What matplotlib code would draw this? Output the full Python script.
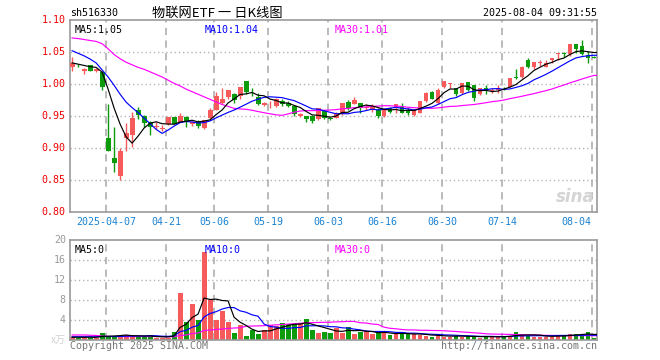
import matplotlib
matplotlib.use('Agg')
import matplotlib.pyplot as plt
import numpy as np
import pandas as pd

# ---------------- data ----------------
dates = [
    '2025-03-27', '2025-03-28', '2025-03-31', '2025-04-01', '2025-04-02', '2025-04-03',
    '2025-04-07', '2025-04-08', '2025-04-09', '2025-04-10', '2025-04-11',
    '2025-04-14', '2025-04-15', '2025-04-16', '2025-04-17', '2025-04-18',
    '2025-04-21', '2025-04-22', '2025-04-23', '2025-04-24', '2025-04-25',
    '2025-04-28', '2025-04-29', '2025-04-30',
    '2025-05-06', '2025-05-07', '2025-05-08', '2025-05-09',
    '2025-05-12', '2025-05-13', '2025-05-14', '2025-05-15', '2025-05-16',
    '2025-05-19', '2025-05-20', '2025-05-21', '2025-05-22', '2025-05-23',
    '2025-05-26', '2025-05-27', '2025-05-28', '2025-05-29', '2025-05-30',
    '2025-06-03', '2025-06-04', '2025-06-05', '2025-06-06',
    '2025-06-09', '2025-06-10', '2025-06-11', '2025-06-12', '2025-06-13',
    '2025-06-16', '2025-06-17', '2025-06-18', '2025-06-19', '2025-06-20',
    '2025-06-23', '2025-06-24', '2025-06-25', '2025-06-26', '2025-06-27',
    '2025-06-30', '2025-07-01', '2025-07-02', '2025-07-03', '2025-07-04',
    '2025-07-07', '2025-07-08', '2025-07-09', '2025-07-10', '2025-07-11',
    '2025-07-14', '2025-07-15', '2025-07-16', '2025-07-17', '2025-07-18',
    '2025-07-21', '2025-07-22', '2025-07-23', '2025-07-24', '2025-07-25',
    '2025-07-28', '2025-07-29', '2025-07-30', '2025-07-31', '2025-08-01',
    '2025-08-04',
]

opens = [1.027, 1.030, 1.021, 1.029, 1.021, 1.019, 0.915, 0.885, 0.857, 0.915,
         0.921, 0.960, 0.950, 0.941, 0.933, 0.930, 0.938, 0.948, 0.941, 0.949,
         0.937, 0.941, 0.931, 0.947, 0.959, 0.971, 0.979, 0.985, 0.981, 1.005,
         0.988, 0.980, 0.967, 0.968, 0.966, 0.974, 0.971, 0.966, 0.950, 0.950,
         0.950, 0.946, 0.958, 0.947, 0.947, 0.953, 0.972, 0.969, 0.971, 0.963,
         0.959, 0.959, 0.950, 0.962, 0.963, 0.966, 0.960, 0.951, 0.955, 0.973,
         0.987, 0.970, 0.995, 1.000, 0.994, 0.986, 1.003, 0.999, 0.984, 0.994,
         0.989, 0.990, 0.994, 0.996, 1.010, 1.011, 1.038, 1.027, 1.033, 1.027,
         1.037, 1.047, 1.048, 1.047, 1.062, 1.060, 1.046, 1.042]
highs = [1.042, 1.032, 1.025, 1.030, 1.025, 1.021, 0.968, 0.933, 0.900, 0.939,
         0.957, 0.964, 0.951, 0.942, 0.940, 0.936, 0.949, 0.949, 0.954, 0.950,
         0.942, 0.944, 0.944, 0.963, 0.988, 0.993, 0.990, 0.986, 0.996, 1.005,
         0.993, 0.986, 0.972, 0.974, 0.978, 0.977, 0.973, 0.966, 0.955, 0.950,
         0.951, 0.963, 0.958, 0.948, 0.956, 0.971, 0.975, 0.979, 0.971, 0.968,
         0.969, 0.963, 0.961, 0.964, 0.968, 0.970, 0.963, 0.960, 0.973, 0.988,
         0.989, 0.994, 1.005, 1.002, 0.994, 1.001, 1.003, 0.999, 0.994, 0.999,
         0.994, 0.999, 0.996, 1.009, 1.024, 1.028, 1.041, 1.035, 1.038, 1.038,
         1.041, 1.048, 1.050, 1.062, 1.063, 1.068, 1.051, 1.043]
lows = [1.020, 1.026, 1.015, 1.020, 1.019, 0.991, 0.895, 0.863, 0.850, 0.895,
        0.901, 0.946, 0.933, 0.920, 0.930, 0.927, 0.936, 0.937, 0.940, 0.933,
        0.934, 0.931, 0.929, 0.946, 0.959, 0.968, 0.976, 0.971, 0.977, 0.985,
        0.982, 0.967, 0.966, 0.962, 0.964, 0.966, 0.964, 0.950, 0.948, 0.940,
        0.939, 0.944, 0.945, 0.943, 0.947, 0.952, 0.959, 0.968, 0.954, 0.959,
        0.956, 0.947, 0.948, 0.955, 0.954, 0.954, 0.951, 0.950, 0.954, 0.972,
        0.976, 0.969, 0.994, 0.994, 0.982, 0.984, 0.989, 0.973, 0.983, 0.984,
        0.986, 0.986, 0.991, 0.995, 1.008, 1.010, 1.025, 1.023, 1.028, 1.026,
        1.033, 1.038, 1.042, 1.044, 1.048, 1.046, 1.033, 1.040]
closes = [1.033, 1.029, 1.024, 1.021, 1.023, 0.996, 0.896, 0.876, 0.896, 0.923,
          0.947, 0.951, 0.939, 0.933, 0.935, 0.932, 0.948, 0.938, 0.950, 0.941,
          0.940, 0.935, 0.944, 0.960, 0.982, 0.976, 0.990, 0.975, 0.995, 0.987,
          0.987, 0.968, 0.971, 0.969, 0.976, 0.969, 0.966, 0.953, 0.953, 0.945,
          0.942, 0.962, 0.947, 0.945, 0.953, 0.971, 0.963, 0.975, 0.962, 0.964,
          0.965, 0.950, 0.961, 0.957, 0.968, 0.955, 0.954, 0.959, 0.973, 0.986,
          0.977, 0.991, 1.005, 1.002, 0.985, 1.001, 0.990, 0.978, 0.993, 0.989,
          0.991, 0.994, 0.993, 1.009, 1.009, 1.027, 1.027, 1.034, 1.034, 1.033,
          1.041, 1.048, 1.047, 1.062, 1.055, 1.047, 1.041, 1.041]
# volume, unit: 万
volumes = [0.6, 0.5, 0.6, 0.5, 0.5, 1.5, 0.7, 0.8, 0.9, 1.1,
           0.8, 0.6, 0.6, 1.0, 0.5, 0.5, 0.5, 1.6, 9.5, 3.6,
           7.2, 4.0, 17.7, 8.0, 4.0, 5.8, 3.6, 1.4, 3.0, 0.8,
           2.0, 1.3, 2.0, 3.0, 2.8, 3.5, 3.2, 3.2, 3.2, 4.2,
           2.0, 1.5, 1.6, 1.5, 2.5, 1.5, 2.6, 1.2, 1.7, 1.8,
           1.2, 1.4, 1.6, 1.0, 1.2, 1.4, 1.2, 1.2, 1.0, 0.8,
           0.7, 1.0, 0.7, 0.7, 0.8, 0.7, 0.8, 0.6, 0.5, 0.8,
           0.6, 0.7, 0.7, 0.9, 1.6, 1.0, 0.9, 0.7, 0.7, 0.7,
           0.7, 1.1, 0.8, 1.2, 1.2, 1.2, 1.6, 0.4]

# moving-average values before their windows fill
ma5_head = [1.033, 1.031, 1.029, 1.027]
ma10_head = [1.052, 1.048, 1.044, 1.039, 1.033, 1.022, 1.011, 0.998, 0.984]
ma30_head = [1.072, 1.071, 1.0695, 1.068, 1.0665, 1.063, 1.055, 1.046, 1.0395,
             1.034, 1.030, 1.026, 1.023, 1.019, 1.015, 1.011, 1.006, 1.001,
             0.997, 0.992, 0.988, 0.984, 0.980, 0.976, 0.972, 0.968, 0.965,
             0.962, 0.961]
vma5_head = [0.55, 0.55, 0.55, 0.55]
vma10_head = [0.65, 0.65, 0.65, 0.65, 0.65, 0.7, 0.7, 0.7, 0.7]
vma30_head = [1.0, 1.0, 1.0, 0.95, 0.9, 0.8, 0.7, 0.7, 0.7, 0.7,
              0.7, 0.7, 0.7, 0.7, 0.7, 0.7, 0.65, 0.65, 0.9, 1.0,
              1.3, 1.4, 1.9, 2.0, 2.1, 2.2, 2.3, 2.4, 2.45]

tick_dates = ['2025-04-07', '2025-04-21', '2025-05-06', '2025-05-19', '2025-06-03',
              '2025-06-16', '2025-06-30', '2025-07-14', '2025-08-04']
tick_labels = ['2025-04-07', '04-21', '05-06', '05-19', '06-03',
               '06-16', '06-30', '07-14', '08-04']
price_ticks = [0.80, 0.85, 0.90, 0.95, 1.00, 1.05, 1.10]
vol_ticks = [4, 8, 12, 16, 20]

title = '物联网ETF 一 日K线图'
code = 'sh516330'
stamp = '2025-08-04 09:31:55'

# ---------------- helpers ----------------
def moving_avg(values, n, head):
    s = pd.Series(values).rolling(n).mean().to_numpy()
    s[:len(head)] = head
    return s

W, H = 660, 360
RED = '#f65a5a'
GREEN = '#0b9b0b'
GRID = '#b4b4b4'
FRAME = '#9a9a9a'
XLAB = '#1a82d2'
MONO = 'DejaVu Sans Mono'
FS = 7.2

fig = plt.figure(figsize=(W / 100, H / 100), dpi=100)
fig.patch.set_facecolor('white')

def px_axes(x0, y0, x1, y1):
    return fig.add_axes([x0 / W, 1 - y1 / H, (x1 - x0) / W, (y1 - y0) / H])

ax = px_axes(70, 20, 597, 212)
axv = px_axes(70, 240, 597, 340)

o = np.array(opens); h = np.array(highs); l = np.array(lows); c = np.array(closes)
v = np.array(volumes)
x = np.arange(len(dates))
up = c >= o
cols = np.where(up, RED, GREEN)
xlim = (-0.35, len(dates) - 0.5)

# ---- price panel ----
ax.vlines(x, l, h, colors=cols, linewidth=1.0, zorder=3)
body_b = np.minimum(o, c)
body_h = np.maximum(np.abs(c - o), 0.0012)
ax.bar(x, body_h, bottom=body_b, width=0.82, color=cols, linewidth=0, zorder=4)

ma5 = moving_avg(closes, 5, ma5_head)
ma10 = moving_avg(closes, 10, ma10_head)
ma30 = moving_avg(closes, 30, ma30_head)
ext = np.append(x, x[-1] + 0.5)
ax.plot(ext, np.append(ma30, ma30[-1]), color='#ff00ff', lw=0.85, zorder=5)
ax.plot(ext, np.append(ma10, ma10[-1]), color='#0000ff', lw=0.85, zorder=5)
ax.plot(ext, np.append(ma5, ma5[-1]), color='black', lw=0.85, zorder=6)

ax.set_xlim(*xlim)
ax.set_ylim(price_ticks[0], price_ticks[-1])
tick_pos = [dates.index(d) - 0.3 for d in tick_dates]
for a in (ax, axv):
    for t in tick_pos:
        a.axvline(t, color=GRID, lw=1.3, ls=(0, (4, 3)), zorder=1)
    a.set_xticks([])
    a.set_yticks([])
    for sp in a.spines.values():
        sp.set_color(FRAME)
        sp.set_linewidth(1.2)
for p in price_ticks[1:-1]:
    ax.axhline(p, color=GRID, lw=1.0, ls=(0, (1, 2)), zorder=1)

for p in price_ticks:
    ax.text(-0.008, p, f'{p:.2f}', transform=ax.get_yaxis_transform(),
            ha='right', va='center', color='#ee0000', family=MONO, fontsize=FS)
for t, lab in zip(tick_pos, tick_labels):
    ha = 'center'
    xx = t
    if lab == tick_labels[-1]:
        ha = 'right'; xx = t - 0.2
    ax.text(xx, -0.05, lab, transform=ax.get_xaxis_transform(),
            ha=ha, va='center', color=XLAB, family=MONO, fontsize=FS)

ax.text(5 / 527, 0.975, f'MA5:{ma5[-1]:.2f}', transform=ax.transAxes, ha='left', va='top',
        color='black', family=MONO, fontsize=FS)
ax.text(135 / 527, 0.975, f'MA10:{ma10[-1]:.2f}', transform=ax.transAxes, ha='left', va='top',
        color='#0000ff', family=MONO, fontsize=FS)
ax.text(265 / 527, 0.975, f'MA30:{ma30[-1]:.2f}', transform=ax.transAxes, ha='left', va='top',
        color='#ff00ff', family=MONO, fontsize=FS)

# sina watermark
ax.text(0.995, 0.03, 'sina', transform=ax.transAxes, ha='right', va='bottom',
        color='#d4d4d4', fontsize=12, fontweight='bold', style='italic', family='DejaVu Sans')

# ---- volume panel ----
axv.bar(x, v, width=0.82, color=cols, linewidth=0, zorder=2)
vma5 = moving_avg(volumes, 5, vma5_head)
vma10 = moving_avg(volumes, 10, vma10_head)
vma30 = moving_avg(volumes, 30, vma30_head)
axv.plot(ext, np.append(vma30, vma30[-1]), color='#ff00ff', lw=0.85, zorder=5)
axv.plot(ext, np.append(vma10, vma10[-1]), color='#0000ff', lw=0.85, zorder=5)
axv.plot(ext, np.append(vma5, vma5[-1]), color='black', lw=0.85, zorder=6)
axv.set_xlim(*xlim)
axv.set_ylim(0, vol_ticks[-1])
for p in vol_ticks[:-1]:
    axv.axhline(p, color=GRID, lw=1.0, ls=(0, (1, 2)), zorder=1)
for p in vol_ticks:
    axv.text(-0.008, p, f'{p}', transform=axv.get_yaxis_transform(),
             ha='right', va='center', color='#9a9a9a', family=MONO, fontsize=FS)
axv.text(-0.008, 0, 'x万', transform=axv.get_yaxis_transform(),
         ha='right', va='center', color='#d0d0d0', family=['Noto Sans CJK SC', 'DejaVu Sans'],
         fontsize=FS)
axv.text(5 / 527, 0.95, 'MA5:0', transform=axv.transAxes, ha='left', va='top',
         color='black', family=MONO, fontsize=FS)
axv.text(135 / 527, 0.95, 'MA10:0', transform=axv.transAxes, ha='left', va='top',
         color='#0000ff', family=MONO, fontsize=FS)
axv.text(265 / 527, 0.95, 'MA30:0', transform=axv.transAxes, ha='left', va='top',
         color='#ff00ff', family=MONO, fontsize=FS)

# ---- header / footer ----
fig.text(70 / W, 1 - 13 / H, code, ha='left', va='center', family=MONO, fontsize=FS,
         color='black')
fig.text(217 / W, 1 - 13 / H, title, ha='center', va='center',
         family=['Noto Sans CJK SC', 'DejaVu Sans'], fontsize=9.5, color='black')
fig.text(597 / W, 1 - 13 / H, stamp, ha='right', va='center', family=MONO, fontsize=FS,
         color='black')
fig.text(70 / W, 1 - 346 / H, 'Copyright 2025 SINA.COM', ha='left', va='center',
         family=MONO, fontsize=FS, color='#777777')
fig.text(597 / W, 1 - 346 / H, 'http://finance.sina.com.cn', ha='right', va='center',
         family=MONO, fontsize=FS, color='#777777')

fig.savefig('out.png', dpi=100)
